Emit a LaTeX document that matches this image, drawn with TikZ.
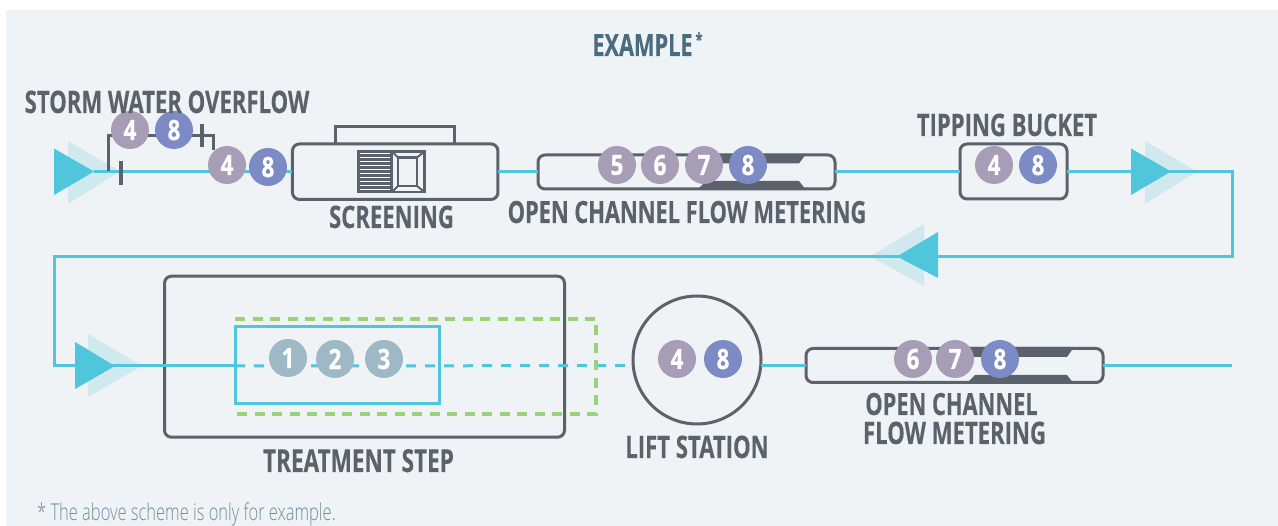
\documentclass[tikz,border=0pt]{standalone}
\usepackage{fontspec}
\newfontfamily\labf[FakeStretch=0.713,FakeBold=0.25]{Open Sans}
\newfontfamily\digf[FakeStretch=0.80,FakeBold=0.6]{Open Sans}
\newfontfamily\notef[FakeStretch=0.71]{Open Sans Light}
\definecolor{panel}{HTML}{EFF3F6}
\definecolor{flow}{HTML}{4FC6DB}
\definecolor{flowpale}{HTML}{CFE9EF}
\definecolor{dark}{HTML}{5C626C}
\definecolor{mauve}{HTML}{A89DB7}
\definecolor{indigo}{HTML}{7C8BC6}
\definecolor{slate}{HTML}{9FB8C5}
\definecolor{green}{HTML}{9AD275}
\definecolor{titlec}{HTML}{4A6C80}
\definecolor{notec}{HTML}{6F8E9E}
\tikzset{
  flowline/.style={draw=flow,line width=3pt},
  flowdash/.style={flowline,dash pattern=on 10pt off 9pt},
  greendash/.style={draw=green,line width=3.6pt,dash pattern=on 10pt off 7.5pt},
  unit/.style={draw=dark,line width=3pt,rounded corners=7pt,inner sep=0pt,outer sep=0pt},
  darkline/.style={draw=dark,line width=3pt},
  ticks/.style={draw=dark,line width=4pt},
  badge/.style={circle,minimum size=38pt,inner sep=0pt,text=white,font=\digf\bfseries\fontsize{28}{28}\selectfont},
  pur/.style={badge,fill=mauve},
  blu/.style={badge,fill=indigo},
  sla/.style={badge,fill=slate},
  lab/.style={text=dark,inner sep=0pt,anchor=base,font=\labf\bfseries\fontsize{31}{31}\selectfont},
  labn/.style={lab,font=\labf\bfseries\fontsize{30.6}{30.6}\selectfont},
  labw/.style={lab,font=\labf\bfseries\fontsize{31.6}{31.6}\selectfont},
  headf/.style={fill=flow},
  palef/.style={fill=flowpale},
}
\begin{document}
\begin{tikzpicture}[x=1pt,y=-1pt]
\useasboundingbox (0,0) rectangle (1278,526);
\fill[white] (0,0) rectangle (1278,526);
\fill[panel] (6,10) rectangle (1278,526);

% coordinates
\coordinate (in1) at (94,171.7);
\coordinate (by1) at (108,171.5);
\coordinate (out1) at (1232,171.7);
\coordinate (out2) at (1232,256.5);
\coordinate (left1) at (54,256.5);
\coordinate (left2) at (54,366);
\coordinate (treatin) at (235,366);
\coordinate (end) at (1232,366);
\coordinate (by2) at (108,136);
\coordinate (by3) at (213,136);
\coordinate (by4) at (213,150);
\coordinate (tick1a) at (121,161);
\coordinate (tick1b) at (121,185);
\coordinate (tick2a) at (202,124);
\coordinate (tick2b) at (202,147);

% pale arrows
\fill[palef] (68,141) -- (68,204) -- (120,171.5) -- cycle;
\fill[palef] (1145,141) -- (1145,204) -- (1197,171.5) -- cycle;
\fill[palef] (924,224) -- (924,286) -- (870,256.5) -- cycle;
\fill[palef] (88,334) -- (88,397) -- (142,366) -- cycle;

% units
\node[unit,minimum width=205.5pt,minimum height=55.5pt] (screen) at (395.2,171.7) {};
\node[unit,minimum width=297pt,minimum height=34pt] (meterA) at (686.5,172) {};
\node[unit,minimum width=107pt,minimum height=55pt] (bucket) at (1013.5,171.5) {};
\node[unit,minimum width=400pt,minimum height=161pt] (treat) at (364.5,356.7) {};
\node[draw=dark,line width=3pt,circle,minimum size=128pt,inner sep=0pt,outer sep=0pt] (lift) at (697,360) {};
\node[unit,minimum width=297pt,minimum height=34pt] (meterB) at (954.5,365.5) {};

% flow connectors
\draw[flowline] (in1) -- (screen.west |- in1);
\draw[flowline] (screen.east |- in1) -- (meterA.west |- in1);
\draw[flowline] (meterA.east |- in1) -- (bucket.west |- in1);
\draw[flowline,line join=miter] (bucket.east |- in1) -- (out1) -- (out2) -- (left1) -- (left2) -- (treatin);
\draw[flowdash] (treatin) -- (lift.185);
\draw[flowline] (lift.-5) -- (meterB.west |- lift.-5);
\draw[flowline] (meterB.east |- end) -- (end);

% solid arrows
\fill[headf] (54,148.5) -- (54,195) -- (94,171.5) -- cycle;
\fill[headf] (1131,148.5) -- (1131,195) -- (1171,171.5) -- cycle;
\fill[headf] (938,232) -- (938,278) -- (897,256.5) -- cycle;
\fill[headf] (75,342) -- (75,389) -- (115,366) -- cycle;

% bypass
\draw[darkline,line join=miter] (by1) -- (by2) -- (by3) -- (by4);
\draw[ticks] (tick1a) -- (tick1b);
\draw[ticks] (tick2a) -- (tick2b);

% hood over the screen
\node[draw=none,minimum width=119pt,minimum height=17pt,inner sep=0pt,outer sep=0pt] (hood) at (394.5,135.5) {};
\draw[darkline] (hood.south west) -- (hood.north west) -- (hood.north east) -- (hood.south east);

% screen icon
\fill[dark] (357,150.5) rectangle (392,193);
\foreach \yy in {153.5,157.5,...,190}
  \draw[white,line width=1pt] (360,\yy) -- (390,\yy);
\draw[dark,line width=2.5pt] (392,151.5) rectangle (424.5,192);
\draw[dark,line width=2.5pt] (398,157.5) rectangle (417,186);
\draw[dark,line width=2pt] (392,151.5) -- (398,157.5) (424.5,151.5) -- (417,157.5) (392,192) -- (398,186) (424.5,192) -- (417,186);

% meter bands
\fill[dark] (700,154) -- (806,154) -- (799,163.5) -- (700,163.5) -- cycle;
\fill[dark] (697,190) -- (706,181) -- (799,181) -- (806,190) -- cycle;
\fill[dark] (970,347) -- (1074,347) -- (1067,357) -- (970,357) -- cycle;
\fill[dark] (966,384) -- (975,375) -- (1067,375) -- (1074,384) -- cycle;

% treatment boxes
\node[draw=flow,line width=3pt,minimum width=204pt,minimum height=77pt,inner sep=0pt,outer sep=0pt] (inner) at (337,365.5) {};
\node[minimum width=361pt,minimum height=95pt,inner sep=0pt,outer sep=0pt] (outer) at (415.5,366.5) {};
\draw[greendash] (outer.north west) -- (outer.north east) -- (outer.south east) -- (outer.south west);

% badges
\node[pur] (b1) at (130,130) {4};
\node[blu] (b2) at (174,130) {8};
\node[pur] (b3) at (227,165) {4};
\node[blu] (b4) at (268,167) {8};
\node[pur] (b5) at (617,165) {5};
\node[pur] (b6) at (660,165) {6};
\node[pur] (b7) at (704,165) {7};
\node[blu] (b8) at (748,165) {8};
\node[pur] (b9) at (994,165) {4};
\node[blu] (b10) at (1038,165) {8};
\node[sla] (b11) at (288,358) {1};
\node[sla] (b12) at (335,359) {2};
\node[sla] (b13) at (384,359) {3};
\node[pur] (b14) at (677,359) {4};
\node[blu] (b15) at (723,359) {8};
\node[pur] (b16) at (913,359) {6};
\node[pur] (b17) at (955,359) {7};
\node[blu] (b18) at (1000,359) {8};

% labels
\node[lab,text=titlec,font=\labf\bfseries\fontsize{30.5}{30.5}\selectfont] (title) at (642.5,56) {EXAMPLE};
\node[text=titlec,inner sep=0pt,anchor=base,font=\labf\bfseries\fontsize{18}{18}\selectfont] (star) at (699,46) {*};
\node[lab] (l1) at (167,113) {STORM WATER OVERFLOW};
\node[lab] (l2) at (391.5,228) {SCREENING};
\node[labn] (l3) at (687,223) {OPEN CHANNEL FLOW METERING};
\node[lab] (l4) at (1007,136) {TIPPING BUCKET};
\node[labw] (l5) at (358.5,472) {TREATMENT STEP};
\node[lab] (l6) at (697,458) {LIFT STATION};
\node[labn] (l7) at (951.5,415) {OPEN CHANNEL};
\node[lab] (l8) at (954.5,444) {FLOW METERING};
\node[text=notec,inner sep=0pt,anchor=base west,font=\notef\fontsize{23.2}{23.2}\selectfont] (note) at (37,521) {* The above scheme is only for example.};
\end{tikzpicture}
\end{document}
